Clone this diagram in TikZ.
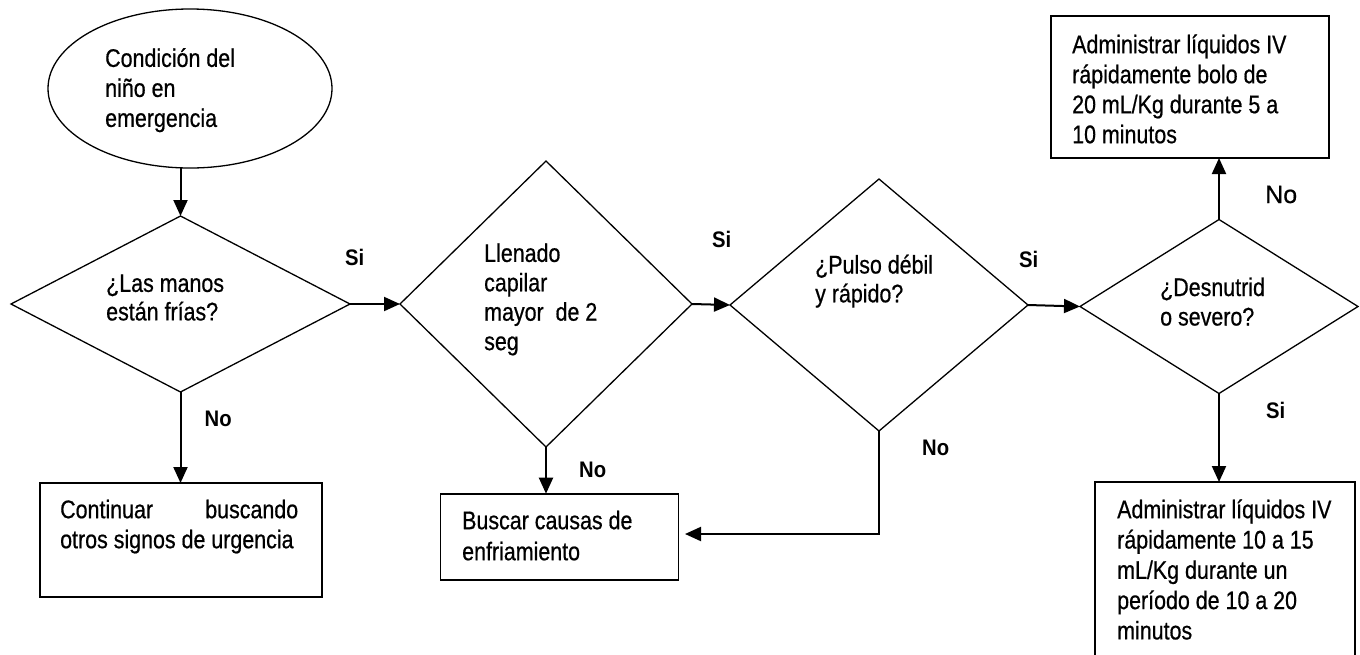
\documentclass[tikz,border=0pt]{standalone}
\usepackage{fontspec}
\setmainfont{Liberation Sans}[FakeStretch=0.84, FakeBold=0.6]
\newfontfamily\widesans{Liberation Sans}[FakeBold=0.6]
\newfontfamily\labelsans{Liberation Sans}[FakeStretch=0.9]
\usetikzlibrary{shapes.geometric,arrows.meta}

% first-line strut: the top of every text block sits 26pt above its first baseline
\newcommand\firstline{\rule{0pt}{26pt}}
\newcommand\bodyfont[1]{\fontsize{25.5}{#1}\selectfont}

\tikzset{
  outline/.style={draw, line width=1.3pt, inner sep=0pt, outer sep=0pt},
  decision/.style={outline, diamond},
  terminal/.style={outline, ellipse},
  action/.style={draw, line width=1.6pt, inner sep=0pt, outer sep=0pt, rectangle, anchor=north west},
  txt/.style={anchor=north west, inner sep=0pt, align=left, font=\bodyfont{#1}},
  txt/.default=30pt,
  lbl/.style={anchor=base west, inner sep=0pt, font=\labelsans\fontsize{22.5}{26}\selectfont\bfseries},
  plainlbl/.style={anchor=base west, inner sep=0pt, font=\widesans\fontsize{25}{30}\selectfont},
  arr/.style={line width=2pt, -{Triangle[length=16pt,width=14pt]}}
}

\begin{document}
\begin{tikzpicture}[x=1pt, y=-1pt]
\useasboundingbox (0,0) rectangle (1360,654);

% start
\node[terminal, minimum width=284pt, minimum height=159pt] (start) at (190,88.5) {};
\node[txt] (starttext) at (105,40.7) {\firstline Condición del\\niño en\\emergencia};

% decisions
\node[decision, minimum width=339pt, minimum height=176pt] (d1) at (180.5,304) {};
\node[txt=28.5pt] (d1text) at (106,265.7) {\firstline ¿Las manos\\están frías?};

\node[decision, minimum width=292pt, minimum height=286pt] (d2) at (546,304) {};
\node[txt=29.4pt] (d2text) at (484,235.7) {\firstline Llenado\\capilar\\mayor \ de 2\\seg};

\node[decision, minimum width=298pt, minimum height=252pt] (d3) at (879,305) {};
\node[txt=28.8pt] (d3text) at (815,247.3) {\firstline ¿Pulso débil\\y rápido?};

\node[decision, minimum width=278pt, minimum height=174pt] (d4) at (1219,306.5) {};
\node[txt=29.5pt] (d4text) at (1160,269.8) {\firstline ¿Desnutrid\\o severo?};

% actions
\node[action, minimum width=282pt, minimum height=114pt] (bl) at (40,483) {};
\node[txt] (bltext) at (60,492) {\firstline\hbox to 238pt{Continuar\hfill buscando}\\otros signos de urgencia};

\node[action, minimum width=238pt, minimum height=86pt] (bm) at (440.6,493.7) {};
\node[txt=31pt] (bmtext) at (462,503) {\firstline Buscar causas de\\enfriamiento};

\node[action, minimum width=278pt, minimum height=142pt] (tr) at (1051,16) {};
\node[txt] (trtext) at (1072,27) {\firstline Administrar líquidos IV\\rápidamente bolo de\\20 mL/Kg durante 5 a\\10 minutos};

\node[action, minimum width=260pt, minimum height=200pt] (br) at (1095,482) {};
\node[txt=30.3pt] (brtext) at (1117,492) {\firstline Administrar líquidos IV\\rápidamente 10 a 15\\mL/Kg durante un\\período de 10 a 20\\minutos};

% connectors
\coordinate (bmin) at (685,534);
\draw[arr] (d1.north |- start.south) -- (d1.north);
\draw[arr] (d1.east) -- (d2.west);
\draw[arr] (d2.east) -- (d3.west);
\draw[arr] (d3.east) -- (d4.west);
\draw[arr] (d4.north) -- (d4.north |- tr.south);
\draw[arr] (d4.south) -- (d4.south |- br.north);
\draw[arr] (d1.south) -- (d1.south |- bl.north);
\draw[arr] (d2.south) -- (d2.south |- bm.north);
\draw[arr] (d3.south) |- (bmin);

% branch labels
\node[lbl] (si1) at (345,265) {Si};
\node[lbl] (si2) at (712,247) {Si};
\node[lbl] (si3) at (1019,267) {Si};
\node[lbl] (si4) at (1266,418) {Si};
\node[plainlbl] (no4) at (1265,203) {No};
\node[lbl] (no1) at (204.5,426) {No};
\node[lbl] (no2) at (579,477.7) {No};
\node[lbl] (no3) at (922,455) {No};
\end{tikzpicture}
\end{document}
